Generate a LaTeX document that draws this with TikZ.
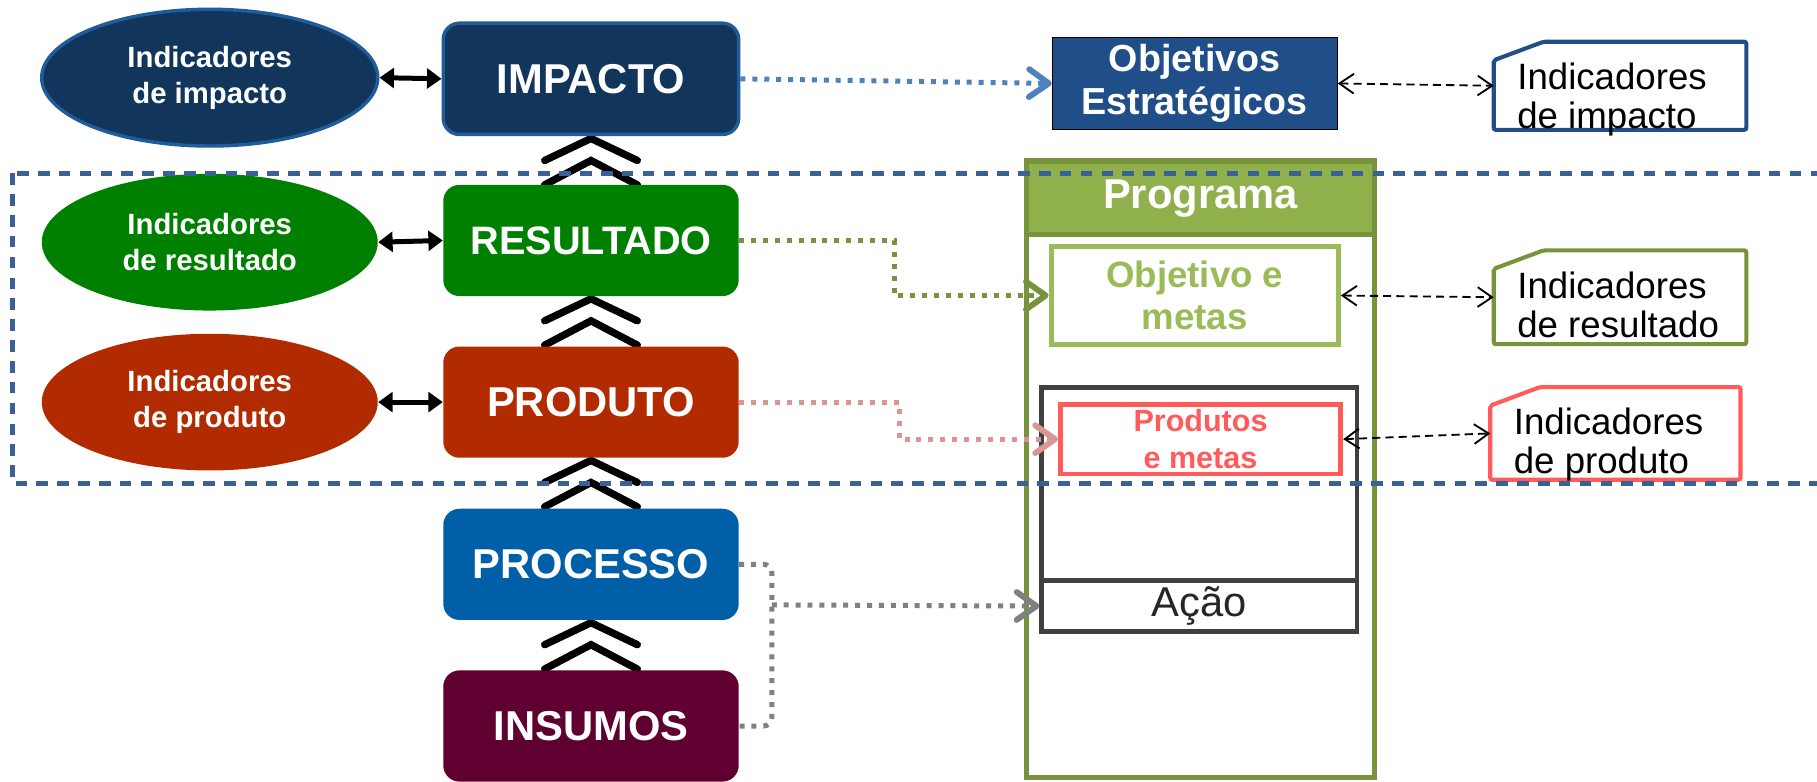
\documentclass[tikz,border=0pt]{standalone}
\usepackage{fontspec}
\setmainfont{Liberation Sans}
\usepackage{xcolor}
\usetikzlibrary{arrows.meta,calc,shapes.geometric,positioning,backgrounds}
\definecolor{impblue}{HTML}{12355B}
\definecolor{impedge}{HTML}{1F5C99}
\definecolor{resgreen}{HTML}{008000}
\definecolor{prodred}{HTML}{B22A00}
\definecolor{procblue}{HTML}{005FA6}
\definecolor{insumowine}{HTML}{5F0030}
\definecolor{objblue}{HTML}{1F4E88}
\definecolor{progedge}{HTML}{77933C}
\definecolor{progfill}{HTML}{8FB04A}
\definecolor{lightgreen}{HTML}{9BBB59}
\definecolor{salmon}{HTML}{FF5B5B}
\definecolor{pinkflow}{HTML}{D99694}
\definecolor{blueflow}{HTML}{4F81BD}
\definecolor{frameblue}{HTML}{3A6196}
\definecolor{acaogray}{HTML}{404040}
\tikzset{>={Triangle[length=0.25cm,width=0.34cm]}}
\tikzset{
	level/.style={rectangle, rounded corners=0.28cm, minimum width=5.1cm, minimum height=1.92cm, text=white, font=\fontsize{20.5}{24}\selectfont\bfseries},
	indic/.style={ellipse, minimum width=5.8cm, minimum height=2.36cm, inner sep=0pt, text=white, align=center, font=\fontsize{14.4}{17.5}\selectfont\bfseries},
	chevron/.style={line width=3.6pt, line cap=round},
	link/.style={line width=2.45pt, <->},
	flow/.style={line width=2.45pt, dash pattern=on 2.45pt off 3.4pt, -{Straight Barb[length=0.34cm,width=0.48cm,line width=2.9pt,round]}},
	pairlink/.style={line width=0.9pt, dash pattern=on 4pt off 2.5pt, {Straight Barb[length=0.25cm,width=0.34cm]}-{Straight Barb[length=0.25cm,width=0.34cm]}},
	innerbox/.style={line width=2.4pt, inner sep=0pt, align=center},
	notebox/.style={minimum width=4.36cm, minimum height=1.52cm, inner sep=0pt, outer sep=0pt},
	noteedge/.style={line width=2pt, rounded corners=1pt},
	notetext/.style={anchor=north west, inner sep=0pt, align=left, font=\fontsize{18}{19.2}\selectfont}
}

\begin{document}
\begin{tikzpicture}[x=0.02cm, y=-0.02cm]
	\useasboundingbox (0,0) rectangle (1568,674);

	% results chain
	\node[indic, fill=impblue, draw=impedge, line width=1.7pt] (ellimp) at (181,67) {Indicadores\\de impacto}; %impact indicators
	\node[indic, fill=resgreen] (ellres) at (181,209) {Indicadores\\de resultado}; %result indicators
	\node[indic, fill=prodred] (ellprod) at (181,347) {Indicadores\\de produto}; %product indicators
	\node[level, fill=impblue, draw=impedge, line width=1.7pt] (impacto) at (510,68) {IMPACTO};
	\node[level, fill=resgreen, font=\fontsize{19.5}{24}\selectfont\bfseries] (resultado) at (510,207.5) {RESULTADO};
	\node[level, fill=prodred] (produto) at (510,347) {PRODUTO};
	\node[level, fill=procblue] (processo) at (510,487) {PROCESSO};
	\node[level, fill=insumowine] (insumos) at (510,626.5) {INSUMOS};
	\coordinate (junc) at (666,522); %grey join

	% programme side
	\node[draw=black, line width=0.5pt, fill=objblue, minimum width=4.92cm, minimum height=1.48cm, text=white, align=center, font=\fontsize{18.5}{21}\selectfont\bfseries] (objest) at (1031,72) {\raisebox{0pt}[\height][0pt]{Objetivos}\\Estratégicos};
	\node[draw=progedge, line width=2.4pt, minimum width=6cm, minimum height=10.66cm, inner sep=0pt] (programa) at (1036,404.5) {}; %programme frame
	\node[draw=progedge, fill=progfill, line width=2.4pt, minimum width=6cm, minimum height=1.26cm, text=white, font=\fontsize{20.5}{24}\selectfont\bfseries] (proghead) at (1036,171) {Programa};
	\node[innerbox, draw=lightgreen, minimum width=4.96cm, minimum height=1.68cm, text=lightgreen, font=\fontsize{18}{20.5}\selectfont\bfseries] (objmetas) at (1031,255) {Objetivo e\\metas};
	\node[innerbox, draw=acaogray, minimum width=5.44cm, minimum height=4.22cm] (acaobox) at (1035,439.5) {}; %action frame
	\node[innerbox, draw=acaogray, minimum width=5.44cm, minimum height=0.88cm, text={black!85}, font=\fontsize{20.5}{24}\selectfont] (acao) at (1035,523) {Ação};
	\node[innerbox, draw=salmon, minimum width=4.84cm, minimum height=1.2cm, text=salmon, font=\fontsize{15}{18.2}\selectfont\bfseries] (prodmetas) at (1036,379) {Produtos\\e metas};

	% indicator notes
	\node[notebox] (noteimp) at (1398,74) {};
	\node[notebox, minimum height=1.62cm] (noteres) at (1398,256.5) {};
	\node[notebox, minimum width=4.32cm, minimum height=1.6cm] (noteprod) at (1394,374) {};
	\foreach \n/\c in {noteimp/objblue, noteres/progedge, noteprod/salmon}
		\draw[noteedge, draw=\c] ($(\n.north west)+(0,16)$) -- ($(\n.north west)+(43,0)$) -- (\n.north east) -- (\n.south east) -- (\n.south west) -- cycle;
	\node[notetext] (noteimptxt) at ($(noteimp.north west)+(20,18)$) {Indicadores\\de impacto};
	\node[notetext] (noterestxt) at ($(noteres.north west)+(20,18)$) {Indicadores\\de resultado};
	\node[notetext] (noteprodtxt) at ($(noteprod.north west)+(20,18)$) {Indicadores\\de produto};

	% chevrons behind the boxes
	\begin{scope}[on background layer]
		\foreach \up in {impacto,resultado,produto,processo}{
			\draw[chevron] ($(\up.south)+(-40,21)$) -- ($(\up.south)+(0,2)$) -- ($(\up.south)+(40,21)$);
			\draw[chevron] ($(\up.south)+(-40,42)$) -- ($(\up.south)+(0,21)$) -- ($(\up.south)+(40,42)$);
		}
	\end{scope}

	% Drawing connectors
	\draw[link] (ellimp.east) -- (impacto.west);
	\draw[link] (ellres.east) -- (resultado.west);
	\draw[link] (ellprod.east) -- (produto.west);
	\draw[flow, blueflow] (impacto.east) -- (objest.west);
	\draw[flow, progedge] (resultado.east) -- ++(134,0) |- (objmetas.west);
	\draw[flow, pinkflow] (produto.east) -- ++(138,0) |- (prodmetas.west);
	\draw[flow, gray, -, rounded corners=4pt] (processo.east) -| (junc) |- (insumos.east);
	\draw[flow, gray] (junc) -- (acao.west);
	\draw[pairlink] (objest.east) -- (noteimp.west);
	\draw[pairlink] (objmetas.east) -- (noteres.west);
	\draw[pairlink] (prodmetas.east) -- (noteprod.west);

	% dashed frame on top
	\draw[frameblue, line width=2.3pt, dash pattern=on 0.2cm off 0.16cm] (11,149.5) rectangle (1640,417);
\end{tikzpicture}
\end{document}
